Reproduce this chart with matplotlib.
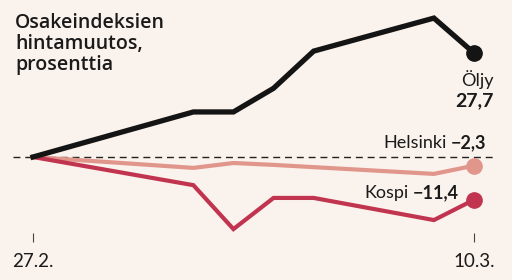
import matplotlib
matplotlib.use("Agg")
import matplotlib.pyplot as plt

plt.rcParams['font.family'] = ['Lato', 'DejaVu Sans']

# days since 27.2., only the days where the lines bend
days = [0, 4, 5, 6, 7, 10, 11]
oljy = [0, 12.0, 12.0, 18.3, 28.2, 37.0, 27.7]
helsinki = [0, -2.9, -1.6, -2.1, -2.7, -4.5, -2.3]
kospi = [0, -7.5, -19.2, -10.9, -10.9, -16.8, -11.4]
tick_days = [0, 11]
tick_labels = ["27.2.", "10.3."]

BG = "#faf2ec"
C_OIL = "#141414"
C_HEL = "#e1968b"
C_KOS = "#c1344f"
TXT = "#1a1a1a"

fig = plt.figure(figsize=(5.12, 2.8), dpi=100, facecolor=BG)
ax = fig.add_axes([0, 47 / 280, 1, 233 / 280])
ax.set_facecolor(BG)
px_day = 441 / 11
px_unit = 104 / 27.7
ax.set_xlim(-33 / px_day, 11 + 38 / px_day)
ax.set_ylim(-(233 - 157) / px_unit, 157 / px_unit)

ax.axhline(0, xmin=13 / 512, xmax=496 / 512, color="#222222", lw=1.0,
           ls=(0, (5, 3.5)), zorder=1)

ax.plot(days, helsinki, color=C_HEL, lw=3.0, solid_joinstyle="miter", zorder=2)
ax.plot(days, kospi, color=C_KOS, lw=3.0, solid_joinstyle="miter", zorder=3)
ax.plot(days, oljy, color=C_OIL, lw=3.8, solid_joinstyle="miter", zorder=4)
for vals, c in [(helsinki, C_HEL), (kospi, C_KOS), (oljy, C_OIL)]:
    ax.plot(days[-1], vals[-1], "o", color=c, ms=11, zorder=5)

ax.set_xticks(tick_days)
ax.set_xticklabels(tick_labels, fontsize=13.5, color=TXT)
ax.tick_params(axis="x", length=6.5, width=0.8, color="#444444", pad=8)
ax.set_yticks([])
for s in ax.spines.values():
    s.set_visible(False)

fig.text(15 / 512, 1 - 13 / 280, "Osakeindeksien\nhintamuutos,\nprosenttia",
         fontsize=14, fontweight="semibold", family=["Open Sans", "DejaVu Sans"],
         color=TXT, va="top", ha="left", linespacing=1.08)

xr = 494 / 512
fig.text(xr, 1 - 80 / 280, "Öljy", fontsize=13, color=TXT,
         ha="right", va="center")
fig.text(xr, 1 - 101 / 280, f"{oljy[-1]:.1f}".replace(".", ","),
         fontsize=14, fontweight="bold", color=TXT, ha="right",
         va="center")

fig.canvas.draw()
r = fig.canvas.get_renderer()
for x, y, name, val in [(486, 143, "Helsinki", helsinki[-1]),
                        (459, 193, "Kospi", kospi[-1])]:
    t = fig.text(x / 512, 1 - y / 280, f"−{abs(val):.1f}".replace(".", ","),
                 fontsize=13, fontweight="bold", color=TXT, ha="right",
                 va="center")
    w = t.get_window_extent(r).width
    fig.text((x - w - 4) / 512, 1 - y / 280, name, fontsize=13, color=TXT,
             ha="right", va="center")

fig.savefig("out.png", dpi=100, facecolor=BG)
